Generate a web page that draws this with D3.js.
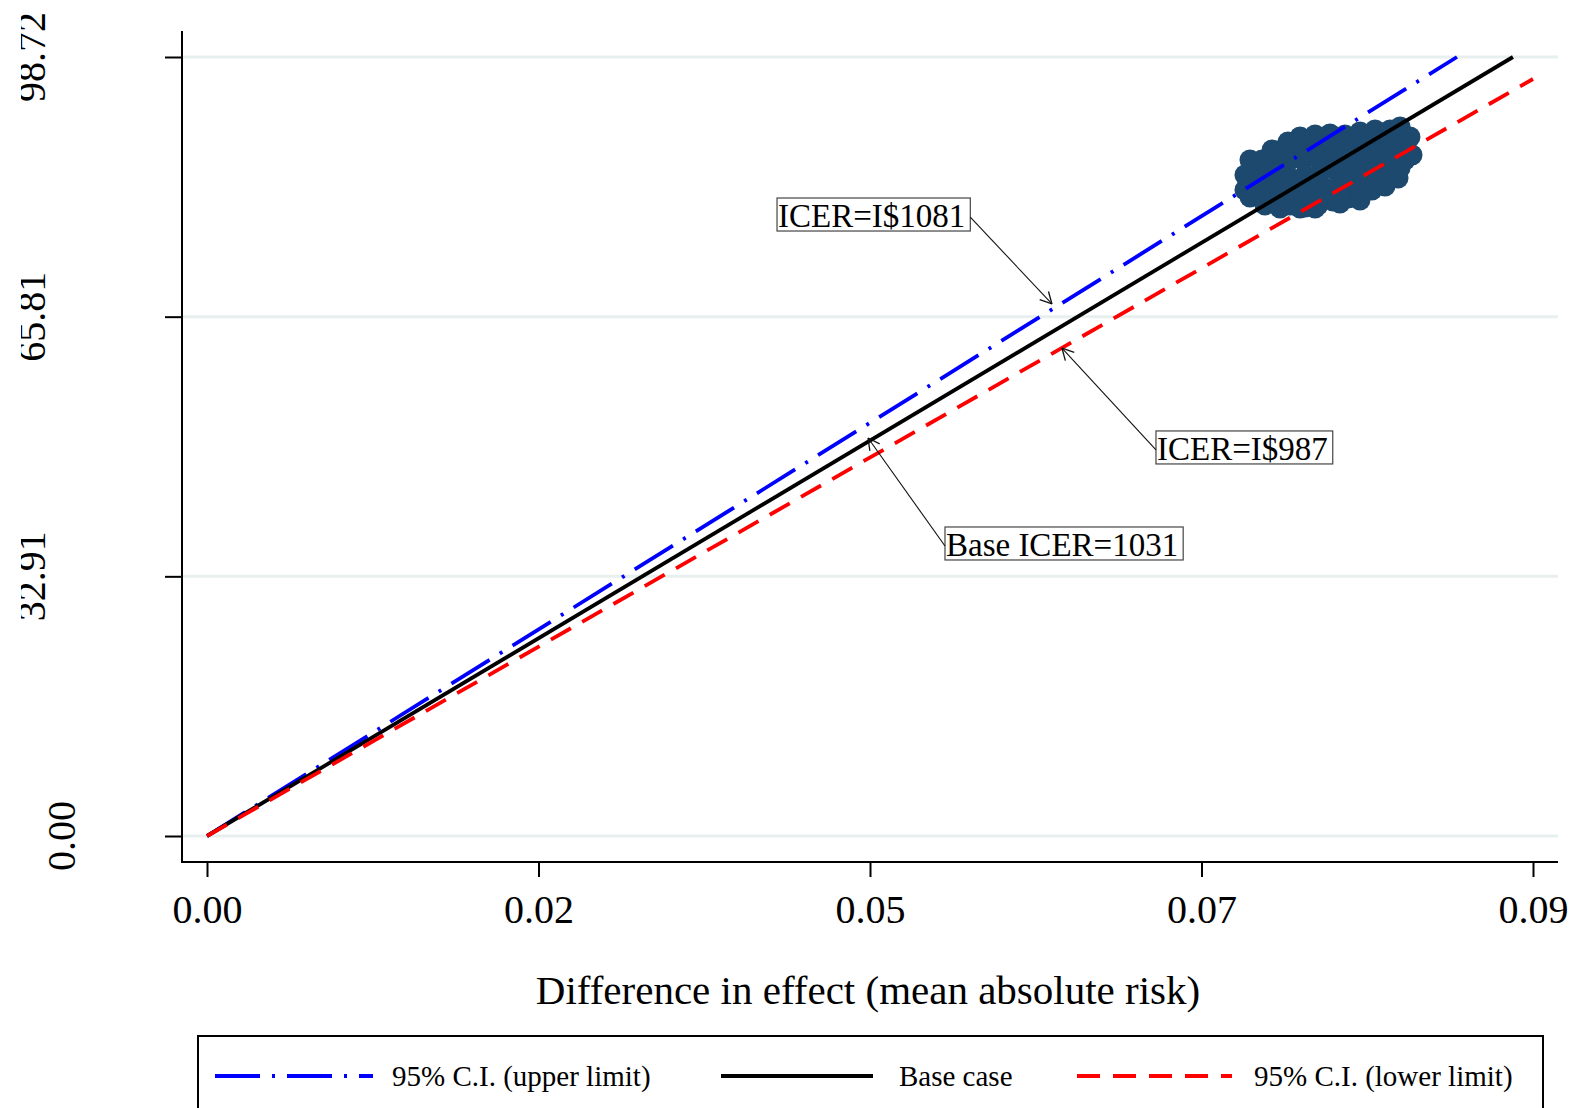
<!DOCTYPE html>
<html>
<head>
<meta charset="utf-8">
<script src="https://cdn.jsdelivr.net/npm/d3@7/dist/d3.min.js"></script>
<style>
html,body{margin:0;padding:0;background:#fff;}
svg{display:block;}
text{font-family:"Liberation Serif","Times New Roman",Times,serif;fill:#000;}
</style>
</head>
<body>
<script>
// ---- data ----
const xTicks = [0, 0.0225, 0.045, 0.0675, 0.09];
const xTickLabels = ["0.00", "0.02", "0.05", "0.07", "0.09"];
const yTicks = [0, 32.907, 65.813, 98.72];
const yTickLabels = ["0.00", "32.91", "65.81", "98.72"];

const seriesNames = ["95% C.I. (upper limit)", "Base case", "95% C.I. (lower limit)"];
const upperLine = [[0, 0], [0.08484, 98.72]];
const baseLine = [[0, 0], [0.08864, 98.72]];
const lowerLine = [[0, 0], [0.09, 95.93]];

// bootstrap simulations (difference in effect, difference in cost)
const simEffect = [0.07337,0.07419,0.07521,0.07622,0.07724,0.07826,0.07928,0.08030,0.08098,0.08165,
  0.08179,0.08131,0.08098,0.08043,0.07079,0.07229,0.07317,0.07419,0.07521,0.07622,
  0.07724,0.07826,0.07928,0.08030,0.08131,0.07045,0.07134,0.07229,0.07337,0.07439,
  0.07541,0.07643,0.07745,0.07846,0.07948,0.08050,0.08152,0.07045,0.07147,0.07249,
  0.07351,0.07453,0.07554,0.07656,0.07758,0.07860,0.07962,0.08064,0.07079,0.07181,
  0.07283,0.07385,0.07487,0.07588,0.07690,0.07792,0.07894,0.07982,0.07351,0.07453,
  0.07541,0.07643,0.07745,0.07826,0.07907,0.07113,0.07249,
  0.07181,0.07283,0.07419,0.07521,0.07690,0.07826,0.07996,0.08084,0.07181,0.07283,
  0.07161,0.07317,0.07419,0.07521,0.07724,0.07826,0.07928,0.08030,0.07554,0.07690,0.07113];
const simCost = [87.95,88.58,88.84,88.96,88.84,89.22,89.47,89.47,89.85,88.58,
  86.30,85.67,84.66,84.40,85.67,86.94,87.19,87.44,87.57,87.70,
  87.82,87.95,88.08,87.95,87.57,83.77,84.40,85.04,85.42,85.67,
  85.92,86.18,86.30,86.43,86.56,86.30,86.68,81.87,82.37,82.88,
  83.39,83.77,84.15,84.40,84.66,84.78,85.04,85.67,80.98,80.85,
  81.11,81.49,81.87,82.12,82.37,82.75,83.13,83.39,79.97,79.71,
  79.97,80.47,80.85,81.11,81.87,82.88,80.22,
  79.97,79.59,79.59,79.59,80.22,80.60,82.37,83.39,83.77,84.40,
  85.67,82.50,82.50,82.88,83.39,83.77,84.15,86.94,80.85,81.23,82.12];

// annotations: label, box top-left (data), arrow tip (data), side the arrow leaves from
const annLabels = ["ICER=I$1081", "ICER=I$987", "Base ICER=1031"];
const annBoxX = [0.03869, 0.06441, 0.05009];
const annBoxY = [80.85, 51.33, 39.16];
const annTipX = [0.05735, 0.05803, 0.04487];
const annTipY = [67.42, 61.84, 50.44];
const annSide = ["right", "left", "left"];

// ---- layout ----
const W = 1574, H = 1108;
const svg = d3.select("body").append("svg").attr("width", W).attr("height", H);

const x = d3.scaleLinear().domain([0, 0.09]).range([207, 1533]);
const y = d3.scaleLinear().domain([0, 98.72]).range([836, 57]);
const axisLeft = 182, axisRight = 1558, axisTop = 31, axisBottom = 862;

// gridlines
svg.append("g").selectAll("line").data(yTicks).join("line")
  .attr("x1", axisLeft).attr("x2", axisRight)
  .attr("y1", d => y(d)).attr("y2", d => y(d))
  .attr("stroke", "#e7efef").attr("stroke-width", 3);

// scatter cloud
const pts = simEffect.map((e, i) => [e, simCost[i]]);
svg.append("g").selectAll("circle").data(pts).join("circle")
  .attr("cx", d => x(d[0])).attr("cy", d => y(d[1])).attr("r", 10.5)
  .attr("fill", "#1d496e");

// lines
const lineGen = d3.line().x(d => x(d[0])).y(d => y(d[1]));
const styles = [
  {data: upperLine, color: "#0000ff", dash: "45,12,3,12"},
  {data: baseLine, color: "#000000", dash: null},
  {data: lowerLine, color: "#ff0000", dash: "23,13"}
];
styles.forEach(s => {
  svg.append("path").attr("d", lineGen(s.data)).attr("fill", "none")
    .attr("stroke", s.color).attr("stroke-width", 3.8)
    .attr("stroke-dasharray", s.dash);
});

// axes
const gy = svg.append("g").attr("transform", `translate(${axisLeft},0)`)
  .call(d3.axisLeft(y).tickValues(yTicks).tickFormat("").tickSize(17).tickSizeOuter(0));
gy.select(".domain").remove();
gy.selectAll(".tick line").attr("stroke", "#000").attr("stroke-width", 2);
svg.append("line").attr("x1", axisLeft).attr("x2", axisLeft).attr("y1", axisTop).attr("y2", axisBottom + 1)
  .attr("stroke", "#000").attr("stroke-width", 2);

const gx = svg.append("g").attr("transform", `translate(0,${axisBottom})`)
  .call(d3.axisBottom(x).tickValues(xTicks).tickFormat((d, i) => xTickLabels[i]).tickSize(15).tickSizeOuter(0).tickPadding(12));
gx.select(".domain").remove();
gx.selectAll(".tick line").attr("stroke", "#000").attr("stroke-width", 2);
gx.selectAll(".tick text").attr("font-size", 40).attr("font-family", "Liberation Serif").attr("dy", null).attr("y", 61);
svg.append("line").attr("x1", axisLeft - 1).attr("x2", axisRight).attr("y1", axisBottom).attr("y2", axisBottom)
  .attr("stroke", "#000").attr("stroke-width", 2);

// y tick labels (rotated), clipped at the left edge like the reference
svg.append("defs").append("clipPath").attr("id", "ylabclip")
  .append("rect").attr("x", 21).attr("y", 0).attr("width", 150).attr("height", H);
svg.append("g").attr("clip-path", "url(#ylabclip)").selectAll("text").data(yTicks).join("text")
  .attr("transform", (d, i) => `translate(${i === 0 ? 75 : 45},${y(d)}) rotate(-90)`)
  .attr("text-anchor", "middle").attr("font-size", 40)
  .text((d, i) => yTickLabels[i]);

// x axis title
svg.append("text").attr("x", 868).attr("y", 1004).attr("text-anchor", "middle")
  .attr("font-size", 41).text("Difference in effect (mean absolute risk)");

// annotations
annLabels.forEach((lab, i) => {
  const bx = x(annBoxX[i]), by = y(annBoxY[i]);
  const g = svg.append("g");
  const t = g.append("text").attr("x", bx + 1).attr("y", by + 29).attr("font-size", 33).text(lab);
  const bb = t.node().getBBox();
  const bw = bb.width + 6, bh = 33;
  g.insert("rect", "text").attr("x", bx).attr("y", by).attr("width", bw).attr("height", bh)
    .attr("fill", "#fff").attr("stroke", "#444").attr("stroke-width", 1.2);
  const sx = annSide[i] === "right" ? bx + bw : bx;
  const sy = by + 19;
  const tx = x(annTipX[i]), ty = y(annTipY[i]);
  g.append("line").attr("x1", sx).attr("y1", sy).attr("x2", tx).attr("y2", ty)
    .attr("stroke", "#111").attr("stroke-width", 1.1);
  const ang = Math.atan2(sy - ty, sx - tx);
  const L = 13, spread = Math.PI / 6.5;
  [ang - spread, ang + spread].forEach(a => {
    g.append("line").attr("x1", tx).attr("y1", ty)
      .attr("x2", tx + L * Math.cos(a)).attr("y2", ty + L * Math.sin(a))
      .attr("stroke", "#111").attr("stroke-width", 1.3);
  });
});

// legend
const lg = svg.append("g");
lg.append("rect").attr("x", 198).attr("y", 1036).attr("width", 1345).attr("height", 120)
  .attr("fill", "#fff").attr("stroke", "#000").attr("stroke-width", 2);
const legX1 = [215, 721, 1077], legX2 = [373, 873, 1232], legTX = [392, 899, 1254];
styles.forEach((s, i) => {
  lg.append("line").attr("x1", legX1[i]).attr("x2", legX2[i]).attr("y1", 1076).attr("y2", 1076)
    .attr("stroke", s.color).attr("stroke-width", 3.8).attr("stroke-dasharray", s.dash);
  lg.append("text").attr("x", legTX[i]).attr("y", 1086).attr("font-size", 29).text(seriesNames[i]);
});
</script>
</body>
</html>
